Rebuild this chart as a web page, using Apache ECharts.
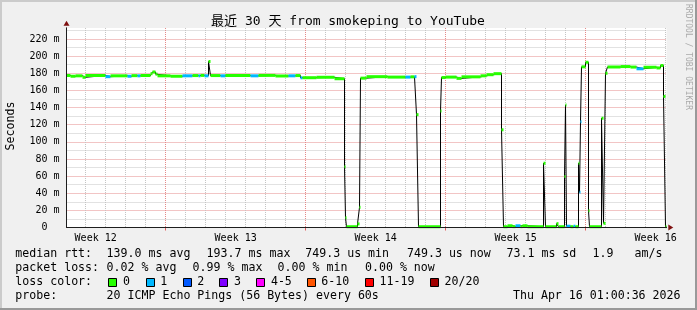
<!DOCTYPE html>
<html><head><meta charset="utf-8">
<script src="https://cdn.jsdelivr.net/npm/echarts@6/dist/echarts.min.js"></script>
<style>html,body{margin:0;padding:0;background:#f0f0f0}#c{width:697px;height:310px}</style>
</head><body><div id="c"></div>
<script>
// ---------- data ----------
const chartTitle = '最近 30 天 from smokeping to YouTube';
const yAxisTitle = 'Seconds';
const watermark = 'RRDTOOL / TOBI OETIKER';
// sample start times, hours since left edge of the graph (30 days = 720 h)
const tHours = [0,4.8,10.8,19.2,22.8,46.8,52.8,73.2,78,85.2,
  88.8,100.8,103.2,106.8,109.2,124.8,139.2,151.2,158.4,160.8,
  165.6,170.4,172.8,184.8,190.8,220.8,230.4,250.8,266.4,274.8,
  280.8,283.2,300,321.6,333.6,334.8,336,349.2,351.6,352.8,
  360,385.2,406.8,412.8,417.6,420,422.4,448.8,450,454.8,
  468,474,496.8,504,512.4,522,524.4,529.2,535.2,538.8,
  544.8,547.2,553.2,572.4,574.8,588,590.4,597.6,598.8,600,
  604.8,608.4,610.8,614.4,615.6,616.8,618,622.8,626.4,627.6,
  642,644.4,646.8,649.2,664.8,676.8,684,692.4,708,712.8,
  716.4,718.8];
const tEnd = 720;
// median rtt, ms
const medianMs = [177.4,176.5,177,175.3,177.4,176,177,176.5,177.2,177,
  177.4,179.5,181.5,179,177,176.5,177,177.3,177,177.5,
  177,193.7,177.3,177,177.4,177,177.5,176.8,177,177.3,
  174.7,174.8,175.3,173.6,71,11.5,0.9,4.2,23.5,174.3,
  176,175.5,175.5,175.8,176,131.7,0.9,136,175,175.5,
  174,175.8,177,178.3,179.5,114,0.9,2,1,2,
  1,2,0.9,75,0.9,4.5,0.9,59.5,143,1.5,
  0.9,1.5,0.9,75,41,123.5,187.5,192.8,19.5,0.9,
  127.5,4.9,180,187.3,187.8,187.2,185.2,187,186.2,189,
  153,0.75];
// lost pings out of 20 for each sample
const lossPings = [0,0,0,0,0,1,0,1,0,1,
  0,0,0,0,0,0,1,0,1,0,
  1,0,0,1,0,1,0,0,1,0,
  1,0,0,0,0,0,0,0,0,0,
  0,0,1,0,1,0,0,0,0,0,
  0,0,0,0,0,0,0,0,0,1,
  0,0,0,0,0,0,0,0,0,1,
  0,1,0,0,1,1,0,0,0,0,
  0,0,0,0,0,0,1,0,0,0,
  0,0];
const lossLegendLabels = ['0','1','2','3','4-5','6-10','11-19','20/20'];
const lossClassMax = [0,1,2,3,5,10,19,20];
const lossColors = ['#26ff00','#00b8ff','#0059ff','#7e00ff','#ff00ff','#ff5500','#ff0000','#a10000'];
// axes
const dayGridHours = Array.from({length: 30}, (_, k) => 23 + 24 * k);
const weekGridHours = [119, 287, 455, 623];
const weekLabelHours = [35, 203, 371, 539, 707];
const weekLabels = ['Week 12','Week 13','Week 14','Week 15','Week 16'];
const yMax = 232.8;
const yMajorTicks = [0,20,40,60,80,100,120,140,160,180,200,220];
const yTickLabels = ['0  ','20 m','40 m','60 m','80 m','100 m','120 m','140 m','160 m','180 m','200 m','220 m'];
const yMinorTicks = [10,30,50,70,90,110,130,150,170,190,210,230];
// legend text
const rttHead = 'median rtt:';
const rttStats = ['139.0 ms avg','193.7 ms max','749.3 us min','749.3 us now','73.1 ms sd','1.9','am/s'];
const lossHead = 'packet loss:';
const lossStats = ['0.02 % avg','0.99 % max','0.00 % min','0.00 % now'];
const colorHead = 'loss color:';
const probeHead = 'probe:';
const probeText = '20 ICMP Echo Pings (56 Bytes) every 60s';
const stampText = 'Thu Apr 16 01:00:36 2026';

// ---------- build ----------
const MONO = '"DejaVu Sans Mono", "Noto Sans CJK SC", monospace';
const f = s => s + 'px ' + MONO;
function lossClass(n) { for (let i = 0; i < lossClassMax.length; i++) if (n <= lossClassMax[i]) return i; return lossClassMax.length - 1; }

const bandData = tHours.map((t, i) => [t, i + 1 < tHours.length ? tHours[i + 1] : tEnd, medianMs[i], lossClass(lossPings[i])]);
const lineData = tHours.map((t, i) => [t, medianMs[i]]).concat([[tEnd, medianMs[medianMs.length - 1]]]);

const gridLeft = 66.5, gridTop = 28, gridW = 600, gridH = 199.5;
const off = {show: false};
function xAx(extra) { return Object.assign({type: 'value', min: 0, max: tEnd, position: 'bottom', gridIndex: 0,
  axisLine: off, axisTick: off, axisLabel: off, splitLine: off}, extra); }
function yAx(extra) { return Object.assign({type: 'value', min: 0, max: yMax, position: 'left', gridIndex: 0,
  axisLine: off, axisTick: off, axisLabel: off, splitLine: off}, extra); }
const minorLine = {show: true, lineStyle: {color: '#c4c4c4', width: 1, type: [1, 1]}};
const majorLine = {show: true, lineStyle: {color: '#e48a8a', width: 1, type: [1, 1]}};
const AXIS_COLOR = '#1e1e1e', ARROW_COLOR = '#7f1010';

const graphics = [];
function txt(s, x, y, size, extra) {
  graphics.push(Object.assign({type: 'text', x: x, y: y, silent: true,
    style: Object.assign({text: s, fill: '#000', font: f(size), align: 'left', verticalAlign: 'middle'}, extra && extra.style)},
    extra && extra.el));
}
// frame
graphics.push({type: 'rect', shape: {x: 0, y: 0, width: 697, height: 2}, style: {fill: '#cbcbcb'}, silent: true});
graphics.push({type: 'rect', shape: {x: 0, y: 0, width: 2, height: 310}, style: {fill: '#cbcbcb'}, silent: true});
graphics.push({type: 'rect', shape: {x: 0, y: 308, width: 697, height: 2}, style: {fill: '#999999'}, silent: true});
graphics.push({type: 'rect', shape: {x: 695, y: 0, width: 2, height: 310}, style: {fill: '#999999'}, silent: true});
// title, unit, watermark
txt(chartTitle, 348, 21.5, 13, {style: {align: 'center'}});
txt(yAxisTitle, 11, 126, 11.6, {style: {align: 'center'}, el: {rotation: Math.PI / 2}});
txt(watermark, 688, 4, 8, {style: {fill: '#aaaaaa'}, el: {rotation: -Math.PI / 2}});
// legend rows
const LS = 11.6, rowY = [254.2, 268.2, 282.2, 296];
txt(rttHead, 15.3, rowY[0], LS);
[106.6, 206.6, 305.3, 407, 506.5, 592.6, 634.5].forEach((x, i) => txt(rttStats[i], x, rowY[0], LS));
txt(lossHead, 15.3, rowY[1], LS);
[106.6, 192.6, 277.6, 365].forEach((x, i) => txt(lossStats[i], x, rowY[1], LS));
txt(colorHead, 15.3, rowY[2], LS);
[108.3, 145.7, 182.7, 219.3, 256.3, 306.7, 365, 430].forEach((x, i) => {
  graphics.push({type: 'rect', silent: true, shape: {x: Math.round(x) + 0.5, y: 278.5, width: 8, height: 8},
    style: {fill: lossColors[i], stroke: '#000', lineWidth: 1}});
  txt(lossLegendLabels[i], x + 14.6, rowY[2], LS);
});
txt(probeHead, 15.3, rowY[3], LS);
txt(probeText, 106.6, rowY[3], LS);
txt(stampText, 680.5, rowY[3], LS, {style: {align: 'right'}});

const option = {
  animation: false,
  backgroundColor: '#f0f0f0',
  grid: {left: gridLeft, top: gridTop, width: gridW, height: gridH, show: true, backgroundColor: '#ffffff', borderWidth: 0, containLabel: false},
  xAxis: [
    xAx({axisTick: {show: false, customValues: dayGridHours}, splitLine: minorLine}),
    xAx({axisTick: {show: true, customValues: weekGridHours, length: 3, lineStyle: {color: '#e06060'}}, splitLine: majorLine}),
    xAx({z: 3, axisLine: {show: true, symbol: ['none', 'triangle'], symbolSize: [6, 5], symbolOffset: [0, 4.3], lineStyle: {color: ARROW_COLOR, width: 1}}}),
    xAx({z: 3, axisLine: {show: true, lineStyle: {color: AXIS_COLOR, width: 1}},
      axisLabel: {show: true, customValues: weekLabelHours, margin: 6, color: '#000', fontFamily: MONO, fontSize: 10,
        formatter: v => weekLabels[weekLabelHours.indexOf(v)]}})
  ],
  yAxis: [
    yAx({axisTick: {show: false, customValues: yMinorTicks}, splitLine: minorLine}),
    yAx({axisTick: {show: false, customValues: yMajorTicks}, splitLine: majorLine,
      axisLabel: {show: true, customValues: yMajorTicks, margin: 7, color: '#000', fontFamily: MONO, fontSize: 10,
        formatter: v => yTickLabels[yMajorTicks.indexOf(v)]}}),
    yAx({z: 3, axisLine: {show: true, symbol: ['none', 'triangle'], symbolSize: [6, 5], symbolOffset: [0, 4.7], lineStyle: {color: ARROW_COLOR, width: 1}}}),
    yAx({z: 3, axisLine: {show: true, lineStyle: {color: AXIS_COLOR, width: 1}}})
  ],
  series: [
    {type: 'line', xAxisIndex: 3, yAxisIndex: 3, data: lineData, step: 'end', showSymbol: false, silent: true,
      lineStyle: {color: '#000000', width: 1}, z: 2},
    {type: 'custom', xAxisIndex: 3, yAxisIndex: 3, data: bandData, encode: {x: [0, 1], y: 2}, silent: true, z: 2.5,
      renderItem: function (params, api) {
        const a = api.coord([api.value(0), api.value(2)]);
        const b = api.coord([api.value(1), api.value(2)]);
        return {type: 'rect', shape: {x: a[0], y: a[1] - 1.5, width: Math.max(b[0] - a[0], 1), height: 3},
          style: {fill: lossColors[api.value(3)]}};
      }}
  ],
  graphic: {elements: graphics}
};
const chart = echarts.init(document.getElementById('c'), null, {renderer: 'canvas'});
chart.setOption(option);
</script></body></html>
